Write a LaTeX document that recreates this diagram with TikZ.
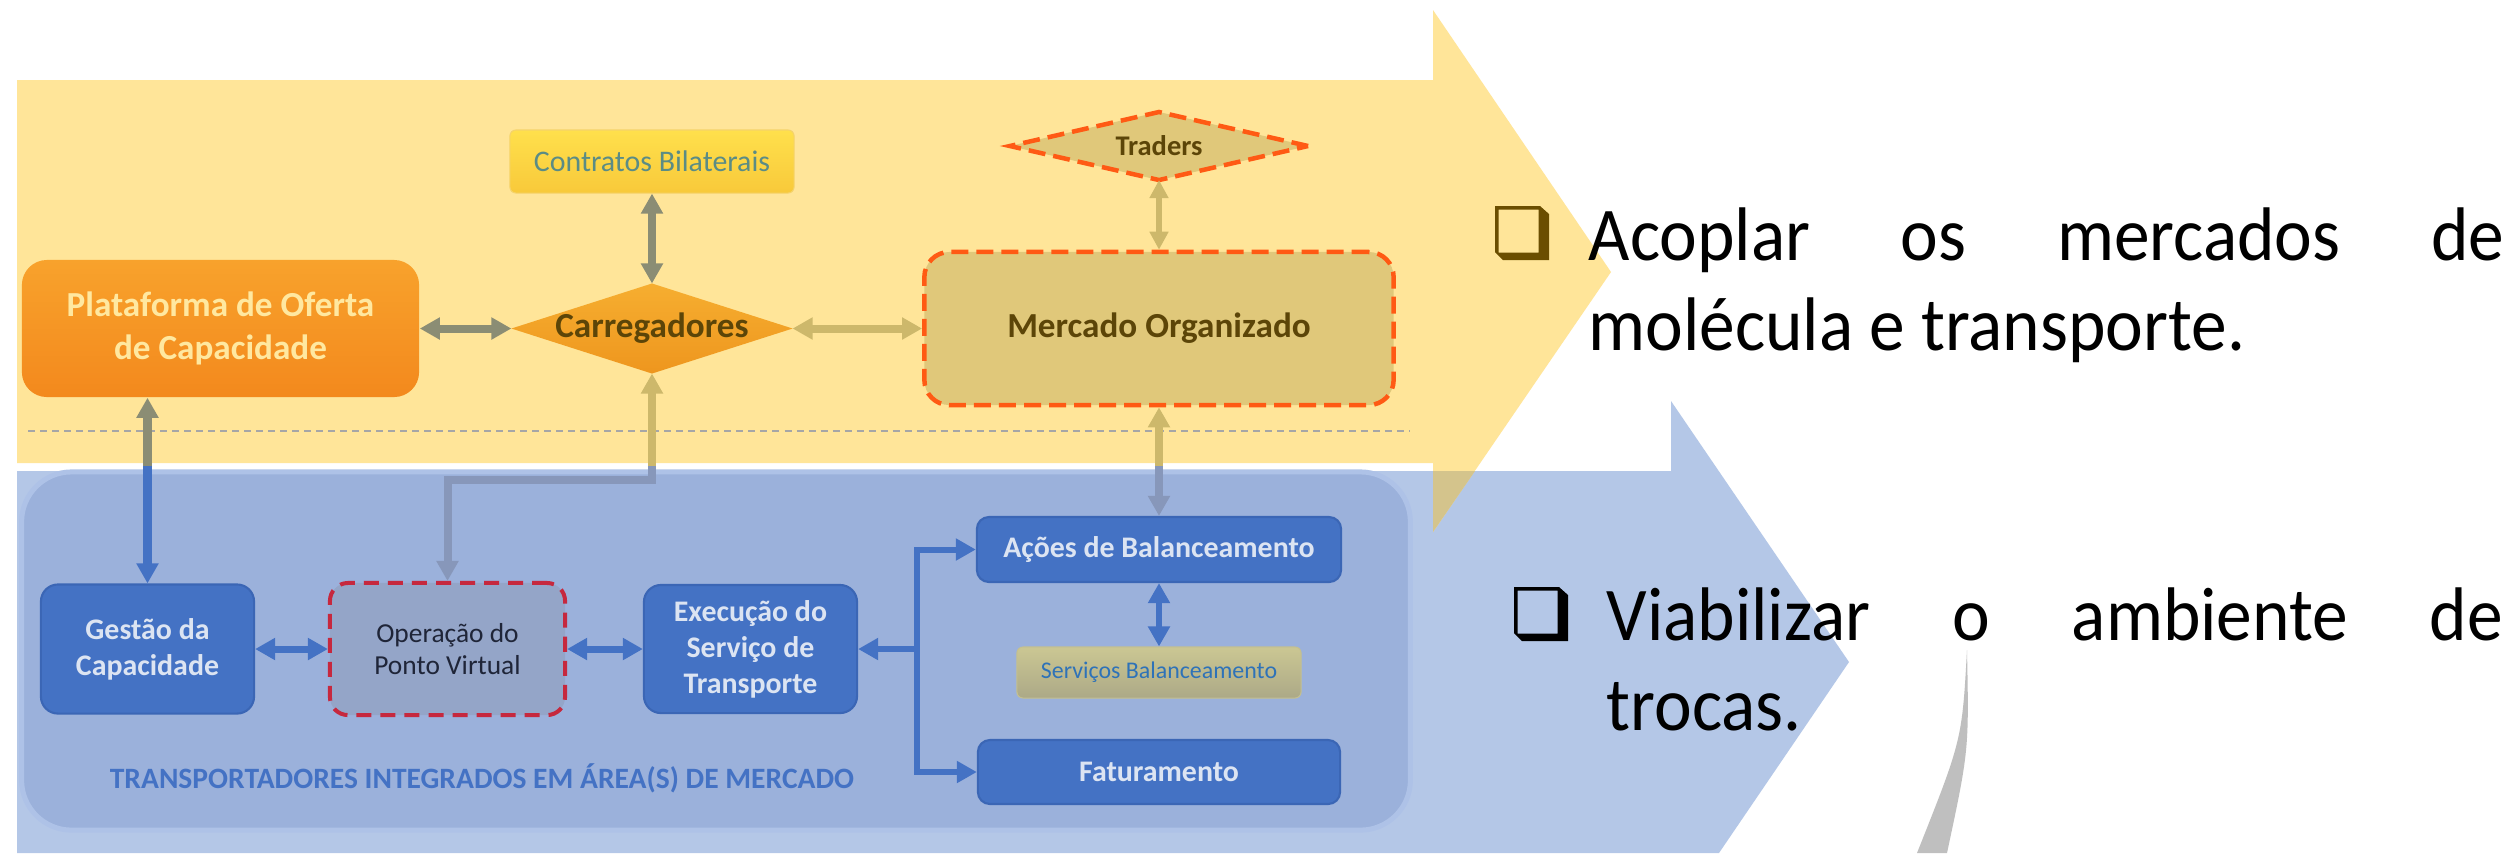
\documentclass[tikz,border=0pt]{standalone}
\usepackage{fontspec}
\setmainfont{Carlito}
\newfontfamily\bulfont{Carlito}[FakeStretch=0.94]
\usetikzlibrary{arrows.meta,shapes.geometric}
\definecolor{ybg}{HTML}{FFE599}
\definecolor{bbg}{HTML}{B4C7E7}
\definecolor{ovl}{HTML}{D4C48C}
\definecolor{contf}{HTML}{9BB1DB}
\definecolor{contedge}{HTML}{AEC2E7}
\definecolor{nblue}{HTML}{4472C4}
\definecolor{nbluedge}{HTML}{3B66B5}
\definecolor{ntext}{HTML}{DCE4F2}
\definecolor{orgA}{HTML}{F8A22C}
\definecolor{orgB}{HTML}{F3891D}
\definecolor{platT}{HTML}{FFE8A0}
\definecolor{carA}{HTML}{F6AE30}
\definecolor{carB}{HTML}{EE961E}
\definecolor{txtbrown}{HTML}{5C4508}
\definecolor{contrA}{HTML}{FFE04C}
\definecolor{contrB}{HTML}{F8C93A}
\definecolor{contrE}{HTML}{F5D36A}
\definecolor{contrT}{HTML}{5B8C85}
\definecolor{mercF}{HTML}{E0C87A}
\definecolor{dashO}{HTML}{FF5A14}
\definecolor{operF}{HTML}{94A5C8}
\definecolor{operE}{HTML}{C6283E}
\definecolor{operT}{HTML}{1F2538}
\definecolor{servA}{HTML}{CBC793}
\definecolor{servB}{HTML}{ACA987}
\definecolor{servE}{HTML}{C4C090}
\definecolor{servT}{HTML}{2E72B8}
\definecolor{tanA}{HTML}{CDB86B}
\definecolor{grayA}{HTML}{8B8D74}
\definecolor{bgray}{HTML}{8797BA}
\definecolor{dline}{HTML}{A6A6A6}
\definecolor{wedgec}{HTML}{BFBFBF}
\definecolor{boxA}{HTML}{6B4E00}
\begin{document}
\begin{tikzpicture}[x=0.01cm, y=-0.01cm,
  >={Triangle[length=0.2cm,width=0.21cm]},
  conn/.style={<->, line width=0.08cm},
  garr/.style={conn, draw=grayA},
  tarr/.style={conn, draw=tanA},
  bgarr/.style={conn, draw=bgray},
  barr/.style={conn, draw=nblue, line width=0.07cm},
  treearr/.style={->, draw=nblue, line width=0.06cm},
  bfont/.style={font=\fontsize{8.5pt}{10.2pt}\selectfont\bfseries},
  bluebox/.style={rectangle, rounded corners=0.17cm, fill=nblue, draw=nbluedge,
    line width=0.6pt, text=ntext, bfont, align=center, inner sep=0pt},
  dashbox/.style={draw=dashO, line width=0.045cm, dash pattern=on 0.17cm off 0.08cm},
  bul/.style={inner sep=0pt, anchor=base west, font=\bulfont\fontsize{21.6pt}{25pt}\selectfont}
]
\useasboundingbox (0,0) rectangle (2514,853);
\fill[white] (0,0) rectangle (2514,853);
% background arrows
\fill[bbg] (17,471) -- (1671,471) -- (1671,401) -- (1849,662) -- (1719,853) -- (17,853) -- cycle;
\fill[ybg] (17,80) -- (1433,80) -- (1433,10) -- (1611,272) -- (1433,532) -- (1433,463) -- (17,463) -- cycle;
\fill[ovl] (1433,471) -- (1475,471) -- (1433,532) -- cycle;
\draw[dline, line width=0.02cm, dash pattern=on 0.07cm off 0.05cm] (28,430.5) -- (1410,430.5);

% container
\node[rectangle, rounded corners=0.5cm, minimum width=13.88cm, minimum height=3.58cm,
  fill=contf, draw=contedge, line width=0.05cm, inner sep=0pt] (area) at (716,651) {};
\node[font=\fontsize{8.4pt}{10pt}\selectfont\bfseries, text=nblue, inner sep=0pt] (areaT) at (482,778)
  {TRANSPORTADORES INTEGRADOS EM ÁREA(S) DE MERCADO};

% top nodes
\node[rectangle, rounded corners=0.25cm, minimum width=3.97cm, minimum height=1.37cm,
  top color=orgA, bottom color=orgB, text=platT, align=center, inner sep=0pt,
  font=\fontsize{10pt}{12.2pt}\selectfont\bfseries] (plat) at (220.5,328.5)
  {Plataforma de Oferta\\de Capacidade};
\node[rectangle, rounded corners=0.06cm, minimum width=2.84cm, minimum height=0.63cm,
  top color=contrA, bottom color=contrB, draw=contrE, line width=0.3pt, text=contrT, inner sep=0pt,
  font=\fontsize{8.5pt}{10pt}\selectfont] (contr) at (652,161.5) {Contratos Bilaterais};
\node[diamond, minimum width=2.81cm, minimum height=0.9cm, inner sep=0pt, outer sep=0pt,
  top color=carA, bottom color=carB] (carr) at (652,328.5) {};
\node[text=txtbrown, inner sep=0pt, font=\fontsize{10pt}{12pt}\selectfont\bfseries] (carrT) at (carr.center) {Carregadores};
\node[rectangle, rounded corners=0.25cm, minimum width=4.69cm, minimum height=1.53cm,
  fill=mercF, dashbox, text=txtbrown, inner sep=0pt,
  font=\fontsize{10pt}{12pt}\selectfont\bfseries] (merc) at (1159,328.5) {Mercado Organizado};
\node[diamond, minimum width=2.98cm, minimum height=0.68cm, inner sep=0pt, outer sep=0pt,
  fill=mercF, dashbox] (trad) at (1159,146) {};
\node[text=txtbrown, inner sep=0pt, font=\fontsize{8.1pt}{10pt}\selectfont\bfseries] (tradT) at (trad.center) {Traders};

% bottom nodes
\node[bluebox, minimum width=2.13cm, minimum height=1.29cm] (gest) at (147.5,649) {Gestão da\\Capacidade};
\node[rectangle, rounded corners=0.18cm, minimum width=2.35cm, minimum height=1.32cm,
  fill=operF, draw=operE, line width=0.04cm, dash pattern=on 0.15cm off 0.09cm,
  text=operT, align=center, inner sep=0pt, font=\fontsize{7.8pt}{9.2pt}\selectfont] (oper) at (447.5,649)
  {Operação do\\Ponto Virtual};
\node[bluebox, minimum width=2.13cm, minimum height=1.28cm] (exec) at (750.5,649) {Execução do\\Serviço de\\Transporte};
\node[bluebox, minimum width=3.64cm, minimum height=0.65cm, rounded corners=0.12cm] (acoes) at (1159,549.5) {Ações de Balanceamento};
\node[rectangle, rounded corners=0.06cm, minimum width=2.84cm, minimum height=0.51cm,
  top color=servA, bottom color=servB, draw=servE, line width=0.3pt, text=servT, inner sep=0pt,
  font=\fontsize{6.8pt}{8pt}\selectfont] (serv) at (1159,672.5) {Serviços Balanceamento};
\node[bluebox, minimum width=3.62cm, minimum height=0.64cm, rounded corners=0.12cm] (fat) at (1159,772) {Faturamento};

% connectors in yellow area
\draw[garr] (plat.east) -- (carr.west);
\draw[garr] (contr.south) -- (carr.north);
\draw[tarr] (carr.east) -- (merc.west);
\draw[draw=tanA, line width=0.055cm, {Triangle[length=0.18cm,width=0.18cm]}-{Triangle[length=0.18cm,width=0.18cm]}] (trad.south) -- (merc.north);

% connectors crossing both areas
\coordinate (bend) at (652,480);
\begin{scope}
  \clip (0,0) rectangle (2514,466);
  \draw[tarr] (carr.south) -- (bend) -| (oper.north);
  \draw[tarr] (merc.south) -- (acoes.north);
  \draw[garr] (plat.south -| gest.north) -- (gest.north);
\end{scope}
\begin{scope}
  \clip (0,466) rectangle (2514,853);
  \draw[bgarr] (carr.south) -- (bend) -| (oper.north);
  \draw[bgarr] (merc.south) -- (acoes.north);
  \draw[conn, draw=nblue] (plat.south -| gest.north) -- (gest.north);
\end{scope}

% blue connectors
\draw[barr] (gest.east) -- (oper.west);
\draw[barr] (oper.east) -- (exec.west);
\draw[barr, line width=0.06cm] (acoes.south) -- (serv.north);
\coordinate (junc) at (917,649);
\draw[treearr] (junc) -- (exec.east);
\draw[treearr] (junc) |- (acoes.west);
\draw[treearr] (junc) |- (fat.west);

% gray wedge
\fill[wedgec] (1967,650) .. controls (1969,750) .. (1947,853) -- (1917,853) .. controls (1962,740) .. (1967,650);

% check boxes
\fill[boxA, even odd rule] (1495,206) -- (1540,206) -- (1549,214) -- (1549,260) -- (1503,260) -- (1495,252) -- cycle
  (1498.5,209.5) rectangle (1538.5,252.5);
\fill[black, even odd rule] (1514,587) -- (1559,587) -- (1568,595) -- (1568,641) -- (1522,641) -- (1514,633) -- cycle
  (1517.5,590.5) rectangle (1557.5,633.5);

% bullet texts
\node[bul] (b1a) at (1588,260) {\makebox[9.15cm][s]{Acoplar os mercados de}};
\node[bul] (b1b) at (1588,350) {molécula e transporte.};
\node[bul] (b2a) at (1606,640) {\makebox[8.96cm][s]{Viabilizar o ambiente de}};
\node[bul] (b2b) at (1606,730) {trocas.};
\end{tikzpicture}
\end{document}
